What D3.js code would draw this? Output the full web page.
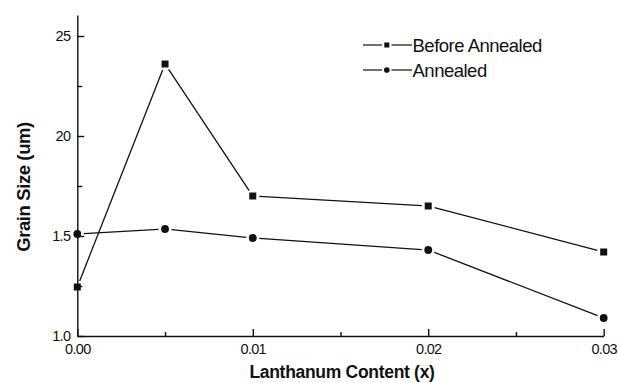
<!DOCTYPE html>
<html>
<head>
<meta charset="utf-8">
<script src="https://cdn.jsdelivr.net/npm/d3@7"></script>
<style>
  html, body { margin: 0; padding: 0; background: #fff; }
  svg { display: block; font-family: "Liberation Sans", Arial, sans-serif; }
</style>
</head>
<body>
<svg id="chart" width="618" height="383"></svg>
<script>
// ---- data ----
const lanthanum = [0.000, 0.005, 0.010, 0.020, 0.030];
const beforeAnnealed = [1.245, 2.36, 1.70, 1.65, 1.42];
const annealed = [1.51, 1.535, 1.49, 1.43, 1.09];
const seriesNames = ["Before Annealed", "Annealed"];
const xTickValues = [0.00, 0.01, 0.02, 0.03];
const xTickLabels = ["0.00", "0.01", "0.02", "0.03"];
const xMinorTicks = [0.005, 0.015, 0.025];
const yTickValues = [1.0, 1.5, 2.0, 2.5];
const yTickLabels = ["1.0", "1.5", "20", "25"];
const yMinorTicks = [1.25, 1.75, 2.25];
const xTitle = "Lanthanum Content (x)";
const yTitle = "Grain Size (um)";

// ---- setup ----
const svg = d3.select("#chart");
const x = d3.scaleLinear().domain([0, 0.03]).range([77.3, 603.7]);
const y = d3.scaleLinear().domain([1.0, 2.605]).range([336, 15]);
const ink = "#111";

// axes
const gx = svg.append("g").attr("transform", `translate(0,${y(1.0)})`);
gx.call(d3.axisBottom(x).tickValues(xTickValues)
    .tickFormat((d, i) => xTickLabels[i]).tickSizeInner(-7).tickSizeOuter(0).tickPadding(8));
const gxm = svg.append("g").attr("transform", `translate(0,${y(1.0)})`);
gxm.call(d3.axisBottom(x).tickValues(xMinorTicks).tickFormat("").tickSizeInner(-4).tickSizeOuter(0));
gxm.select(".domain").remove();

const gy = svg.append("g").attr("transform", `translate(${x(0)},0)`);
gy.call(d3.axisLeft(y).tickValues(yTickValues)
    .tickFormat((d, i) => yTickLabels[i]).tickSizeInner(-7).tickSizeOuter(0).tickPadding(7));
const gym = svg.append("g").attr("transform", `translate(${x(0)},0)`);
gym.call(d3.axisLeft(y).tickValues(yMinorTicks).tickFormat("").tickSizeInner(-5).tickSizeOuter(0));
gym.select(".domain").remove();

svg.selectAll(".domain, .tick line").attr("stroke", ink).attr("stroke-width", 1.4);
svg.selectAll(".tick text").attr("fill", ink).attr("font-size", 14.5)
   .attr("font-family", "Liberation Sans, Arial, sans-serif").attr("letter-spacing", -0.7);

// title labels
svg.append("text").attr("x", 342).attr("y", 378).attr("text-anchor", "middle")
  .attr("font-size", 17.5).attr("font-weight", "bold").attr("letter-spacing", -0.3)
  .attr("fill", ink).text(xTitle);
svg.append("text").attr("transform", "translate(30,187) rotate(-90)").attr("text-anchor", "middle")
  .attr("font-size", 18.5).attr("font-weight", "bold").attr("letter-spacing", -0.4)
  .attr("fill", ink).text(yTitle);

// ---- series ----
const gap = 6.5;
function drawSeries(values, shape) {
  const pts = lanthanum.map((v, i) => [x(v), y(values[i])]);
  const g = svg.append("g");
  for (let i = 0; i < pts.length - 1; i++) {
    const [x1, y1] = pts[i], [x2, y2] = pts[i + 1];
    const L = Math.hypot(x2 - x1, y2 - y1);
    const ux = (x2 - x1) / L, uy = (y2 - y1) / L;
    g.append("line")
      .attr("x1", x1 + ux * gap).attr("y1", y1 + uy * gap)
      .attr("x2", x2 - ux * gap).attr("y2", y2 - uy * gap)
      .attr("stroke", ink).attr("stroke-width", 1.3);
  }
  pts.forEach(([px, py]) => drawMarker(g, px, py, shape, 1));
}
function drawMarker(g, px, py, shape, s) {
  if (shape === "square") {
    const w = 7 * s;
    g.append("rect").attr("x", px - w / 2).attr("y", py - w / 2)
      .attr("width", w).attr("height", w).attr("fill", ink);
  } else {
    g.append("circle").attr("cx", px).attr("cy", py).attr("r", 3.9 * s).attr("fill", ink);
  }
}
drawSeries(beforeAnnealed, "square");
drawSeries(annealed, "circle");

// ---- legend ----
const legendRows = [
  { name: seriesNames[0], shape: "square", y: 45 },
  { name: seriesNames[1], shape: "circle", y: 70 }
];
legendRows.forEach(r => {
  const g = svg.append("g");
  g.append("line").attr("x1", 363).attr("x2", 382).attr("y1", r.y).attr("y2", r.y)
    .attr("stroke", ink).attr("stroke-width", 1.2);
  g.append("line").attr("x1", 391.5).attr("x2", 412).attr("y1", r.y).attr("y2", r.y)
    .attr("stroke", ink).attr("stroke-width", 1.2);
  drawMarker(g, 386.8, r.y, r.shape, 0.72);
  g.append("text").attr("x", 412.5).attr("y", r.y + 6.5).attr("font-size", 18.5)
    .attr("letter-spacing", -0.5).attr("fill", ink).text(r.name);
});
</script>
</body>
</html>
